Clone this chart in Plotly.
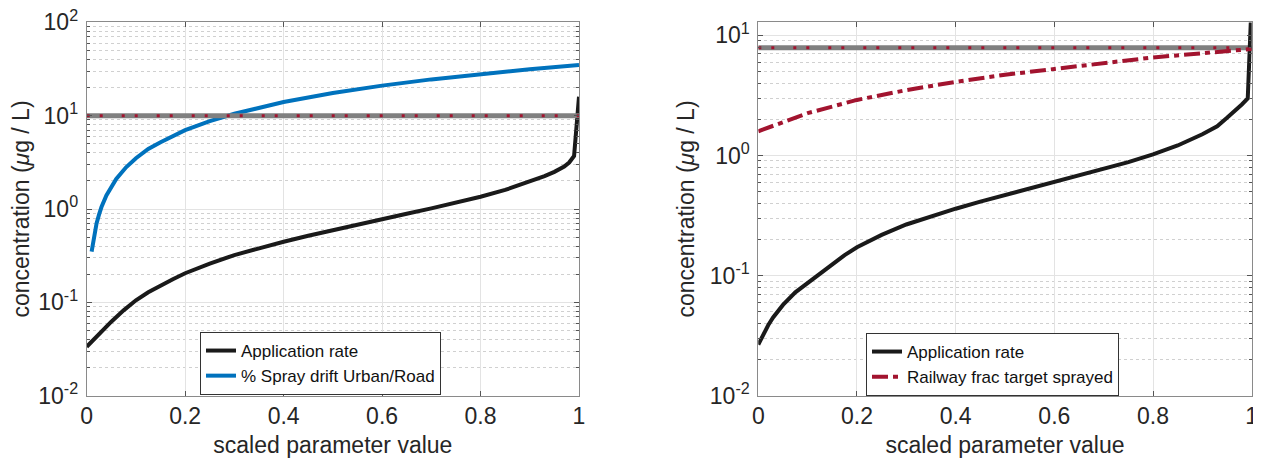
import plotly.graph_objects as go

# ---------------- data ----------------
# Left panel
x_app_left = [0.0, 0.01, 0.02, 0.03, 0.05, 0.075, 0.1, 0.125, 0.15, 0.175, 0.2, 0.25, 0.3, 0.35,
              0.4, 0.45, 0.5, 0.55, 0.6, 0.65, 0.7, 0.75, 0.8, 0.85, 0.9, 0.93, 0.95, 0.97,
              0.98, 0.99, 1.0]
y_app_left = [0.0334, 0.038, 0.043, 0.049, 0.062, 0.082, 0.105, 0.128, 0.152, 0.177, 0.205, 0.26,
              0.321, 0.382, 0.446, 0.517, 0.595, 0.682, 0.776, 0.89, 1.016, 1.17, 1.355, 1.6,
              1.96, 2.25, 2.5, 2.85, 3.15, 3.7, 16.0]

x_drift = [0.01, 0.015, 0.02, 0.025, 0.03, 0.04, 0.05, 0.06, 0.08, 0.1, 0.125, 0.15, 0.2, 0.25,
           0.3, 0.4, 0.5, 0.6, 0.7, 0.8, 0.9, 1.0]
y_drift = [0.35, 0.52, 0.7, 0.87, 1.05, 1.4, 1.75, 2.1, 2.8, 3.5, 4.4, 5.2, 7.0, 8.75,
           10.5, 14.0, 17.5, 21.0, 24.5, 28.0, 31.5, 35.0]

thresh_left = 10.0

# Right panel
x_app_right = [0.0, 0.01, 0.02, 0.03, 0.05, 0.075, 0.1, 0.125, 0.15, 0.175, 0.2, 0.25, 0.3, 0.35,
               0.4, 0.45, 0.5, 0.55, 0.6, 0.65, 0.7, 0.75, 0.8, 0.85, 0.9, 0.93, 0.95, 0.97,
               0.98, 0.992, 1.0]
y_app_right = [0.0266, 0.0324, 0.0385, 0.0447, 0.0569, 0.0724, 0.087, 0.104, 0.125, 0.148, 0.172, 0.218,
               0.266, 0.312, 0.36, 0.412, 0.467, 0.53, 0.6, 0.678, 0.764, 0.88, 1.02, 1.21,
               1.5, 1.75, 2.06, 2.42, 2.66, 2.98, 20.0]

x_rail = [0.0, 0.1, 0.2, 0.3, 0.4, 0.5, 0.6, 0.7, 0.8, 0.9, 1.0]
y_rail = [1.59, 2.25, 2.9, 3.5, 4.1, 4.7, 5.25, 5.9, 6.55, 7.1, 7.7]

thresh_right = 7.9

x_ticks = [0, 0.2, 0.4, 0.6, 0.8, 1]
x_ticktext = ["0", "0.2", "0.4", "0.6", "0.8", "1"]
y_ticks_left = [0.01, 0.1, 1, 10, 100]
y_ticktext_left = ["10<sup>-2</sup>", "10<sup>-1</sup>", "10<sup>0</sup>", "10<sup>1</sup>", "10<sup>2</sup>"]
y_ticks_right = [0.01, 0.1, 1, 10]
y_ticktext_right = ["10<sup>-2</sup>", "10<sup>-1</sup>", "10<sup>0</sup>", "10<sup>1</sup>"]

# ---------------- styles ----------------
BLACK = "#1a1a1a"
BLUE = "#0072BD"
CRIMSON = "#A2142F"
GRAY = "#808080"
FONT = "Liberation Sans, Arial, sans-serif"

fig = go.Figure()

# left panel
fig.add_trace(go.Scatter(x=x_app_left, y=y_app_left, mode="lines", name="Application rate",
                         line=dict(color=BLACK, width=4), xaxis="x", yaxis="y", legend="legend"))
fig.add_trace(go.Scatter(x=x_drift, y=y_drift, mode="lines", name="% Spray drift Urban/Road",
                         line=dict(color=BLUE, width=4), xaxis="x", yaxis="y", legend="legend"))
fig.add_trace(go.Scatter(x=[0, 1], y=[thresh_left, thresh_left], mode="lines", showlegend=False,
                         line=dict(color=GRAY, width=5), xaxis="x", yaxis="y", hoverinfo="skip"))
fig.add_trace(go.Scatter(x=[0, 1], y=[thresh_left, thresh_left], mode="lines", showlegend=False,
                         line=dict(color=CRIMSON, width=3, dash="3px,10px,3px,19px"),
                         xaxis="x", yaxis="y", hoverinfo="skip"))

# right panel
fig.add_trace(go.Scatter(x=[0, 1], y=[thresh_right, thresh_right], mode="lines", showlegend=False,
                         line=dict(color=GRAY, width=5), xaxis="x2", yaxis="y2", hoverinfo="skip"))
fig.add_trace(go.Scatter(x=[0, 1], y=[thresh_right, thresh_right], mode="lines", showlegend=False,
                         line=dict(color=CRIMSON, width=3, dash="3px,10px,3px,19px"),
                         xaxis="x2", yaxis="y2", hoverinfo="skip"))
fig.add_trace(go.Scatter(x=x_app_right, y=y_app_right, mode="lines", name="Application rate",
                         line=dict(color=BLACK, width=4), xaxis="x2", yaxis="y2", legend="legend2"))
fig.add_trace(go.Scatter(x=x_rail, y=y_rail, mode="lines", name="Railway frac target sprayed",
                         line=dict(color=CRIMSON, width=4, dash="16px,5px,5px,5px"),
                         xaxis="x2", yaxis="y2", legend="legend2"))

# The page body has an 8px margin: the figure starts at (8, 8) in the page
OFF = 8
W, H = 1261 - OFF, 466 - 2 * OFF


def px_x(p):
    return (p - OFF) / W


def px_y(p):
    return (H - (p - OFF)) / H


yd = [px_y(395.6), px_y(22.4)]

common_x = dict(range=[0, 1], tickmode="array", tickvals=x_ticks, ticktext=x_ticktext,
                showgrid=True, gridcolor="#e3e3e3", gridwidth=1, automargin=False,
                ticklabeloverflow="allow",
                ticks="inside", ticklen=5, tickcolor="#555555",
                showline=True, linecolor="#8a8a8a", linewidth=1, mirror="ticks",
                zeroline=False, tickfont=dict(size=23, color="#262626", family=FONT),
                title=dict(text="scaled parameter value", font=dict(size=23, color="#262626", family=FONT),
                           standoff=8))


def yaxis_cfg(rng, tv, tt):
    return dict(type="log", range=rng, tickmode="array", tickvals=tv, ticktext=tt, automargin=False,
                ticklabeloverflow="allow",
                showgrid=True, gridcolor="#e3e3e3", gridwidth=1,
                minor=dict(dtick="D1", showgrid=True, gridcolor="#d0d0d0", griddash="dot",
                           ticks="inside", ticklen=3, tickcolor="#555555"),
                ticks="inside", ticklen=5, tickcolor="#555555", ticklabelstandoff=3,
                showline=True, linecolor="#8a8a8a", linewidth=1, mirror="ticks",
                zeroline=False, tickfont=dict(size=23, color="#262626", family=FONT),
                title=dict(text="concentration (<i>μ</i>g / L)",
                           font=dict(size=23, color="#262626", family=FONT), standoff=8))


fig.update_layout(
    width=W, height=H,
    margin=dict(l=0, r=0, t=0, b=0, autoexpand=False),
    paper_bgcolor="white", plot_bgcolor="white",
    font=dict(family=FONT, color="#262626"),
    xaxis=dict(domain=[px_x(86.7), px_x(579)], anchor="y", **common_x),
    yaxis=dict(domain=yd, anchor="x", **yaxis_cfg([-2, 2], y_ticks_left, y_ticktext_left)),
    xaxis2=dict(domain=[px_x(758.3), px_x(1251.7)], anchor="y2", **common_x),
    yaxis2=dict(domain=yd, anchor="x2", **yaxis_cfg([-2, 1.108], y_ticks_right, y_ticktext_right)),
    legend=dict(x=px_x(200), y=px_y(332), xanchor="left", yanchor="top",
                bgcolor="white", bordercolor="#333333", borderwidth=1,
                font=dict(size=17, color="#111111", family=FONT), tracegroupgap=0),
    legend2=dict(x=px_x(866), y=px_y(333), xanchor="left", yanchor="top",
                 bgcolor="white", bordercolor="#333333", borderwidth=1,
                 font=dict(size=17, color="#111111", family=FONT), tracegroupgap=0),
    showlegend=True,
)

fig.write_html("out.html")
